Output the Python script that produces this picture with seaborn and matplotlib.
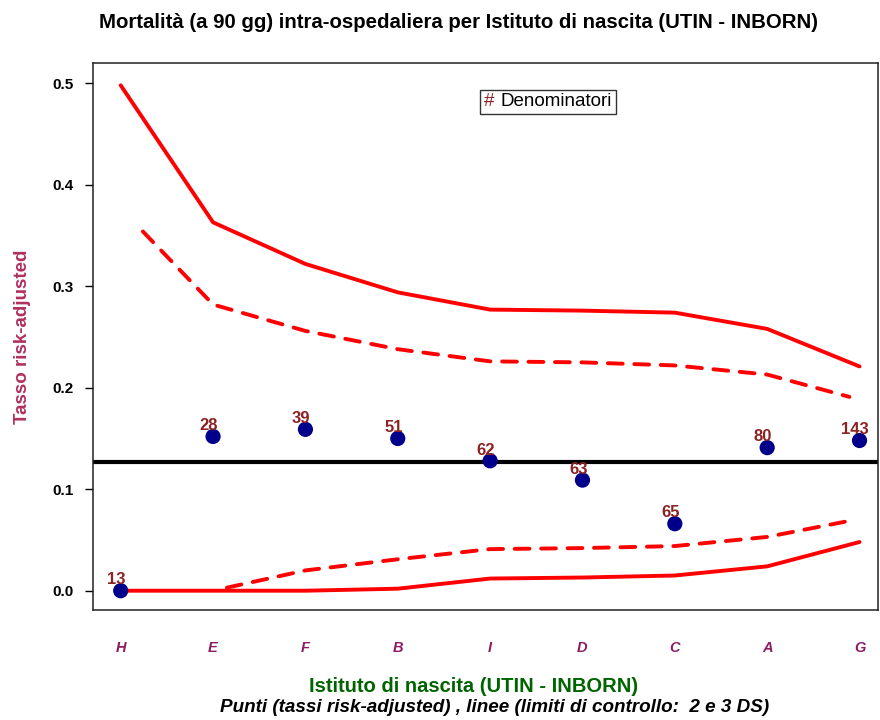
import matplotlib
matplotlib.use("Agg")
import matplotlib.pyplot as plt
import seaborn as sns
import pandas as pd
from matplotlib.offsetbox import TextArea, HPacker, AnchoredOffsetbox

# ---- data ----
categories = ["H", "E", "F", "B", "I", "D", "C", "A", "G"]
denominators = [13, 28, 39, 51, 62, 63, 65, 80, 143]
rates = [0.000, 0.152, 0.159, 0.150, 0.128, 0.109, 0.066, 0.141, 0.148]
center_rate = 0.127
upper_3ds = [0.498, 0.363, 0.322, 0.294, 0.277, 0.276, 0.274, 0.258, 0.221]
lower_3ds = [0.000, 0.000, 0.000, 0.002, 0.012, 0.013, 0.015, 0.024, 0.048]
# 2 DS limits (smoothed curves, positions in category units)
upper_2ds_pos = [0.24, 1, 2, 3, 4, 5, 6, 7, 7.89]
upper_2ds = [0.354, 0.282, 0.256, 0.238, 0.226, 0.225, 0.222, 0.213, 0.191]
lower_2ds_pos = [1.15, 2, 3, 4, 5, 6, 7, 7.9]
lower_2ds = [0.003, 0.020, 0.031, 0.041, 0.042, 0.044, 0.053, 0.069]

pos = list(range(len(categories)))

sns.set_style("white")
plt.rcParams["font.family"] = ["Liberation Sans", "DejaVu Sans"]
plt.rcParams["text.color"] = "black"
plt.rcParams["axes.labelcolor"] = "black"
plt.rcParams["xtick.color"] = "black"
plt.rcParams["ytick.color"] = "black"

fig = plt.figure(figsize=(8.8, 7.2), dpi=100)
ax = fig.add_axes([93 / 880, 1 - 610 / 720, (878 - 93) / 880, (610 - 63) / 720])

red = "#FF0000"
lw = 2.8

df3 = pd.DataFrame({"x": pos, "up": upper_3ds, "lo": lower_3ds, "rate": rates})
sns.lineplot(x="x", y="up", data=df3, ax=ax, color=red, lw=lw, solid_capstyle="round")
sns.lineplot(x="x", y="lo", data=df3, ax=ax, color=red, lw=lw, solid_capstyle="round")
sns.lineplot(x=upper_2ds_pos, y=upper_2ds, ax=ax, color=red, lw=lw,
             linestyle=(0, (3.8, 3.0)), dash_capstyle="round")
sns.lineplot(x=lower_2ds_pos, y=lower_2ds, ax=ax, color=red, lw=lw,
             linestyle=(0, (3.8, 3.0)), dash_capstyle="round")
ax.axhline(center_rate, color="black", lw=3.0)
sns.scatterplot(x="x", y="rate", data=df3, ax=ax, color="#00008B", s=120,
                edgecolor="none", zorder=5)

for x, y, n in zip(pos, rates, denominators):
    ax.annotate(str(n), (x, y), xytext=(-3, 4.5), textcoords="offset points",
                ha="center", va="baseline", fontsize=12, fontweight="bold",
                color="#8B2323", zorder=6)

ax.set_xlim(-0.30, 8.2)
ax.set_ylim(-0.019, 0.52)
ax.set_yticks([0.0, 0.1, 0.2, 0.3, 0.4, 0.5])
ax.set_yticklabels(["0.0", "0.1", "0.2", "0.3", "0.4", "0.5"],
                   fontsize=11, fontweight="bold")
ax.tick_params(axis="y", direction="out", length=6, width=1, left=True, pad=8)
ax.set_xticks(pos)
ax.set_xticklabels(categories, fontsize=10.5, fontstyle="italic",
                   fontweight="bold", color="#8B1C62")
ax.tick_params(axis="x", length=0, pad=22)
for s in ax.spines.values():
    s.set_color("#222222")
    s.set_linewidth(1.1)

ax.set_xlabel("")
ax.set_ylabel("Tasso risk-adjusted", fontsize=13.5, fontweight="bold",
              color="#B03060", labelpad=15)

fig.text(458 / 880, 1 - 22 / 720,
         "Mortalità (a 90 gg) intra-ospedaliera per Istituto di nascita (UTIN - INBORN)",
         ha="center", va="center", fontsize=14.7, fontweight="bold")
fig.text(474 / 880, 1 - 686 / 720, "Istituto di nascita (UTIN - INBORN)",
         ha="center", va="center", fontsize=14.5, fontweight="bold",
         color="#006400")
fig.text(495 / 880, 1 - 708 / 720,
         "Punti (tassi risk-adjusted) , linee (limiti di controllo:  2 e 3 DS)",
         ha="center", va="center", fontsize=13.6, fontweight="bold",
         fontstyle="italic")

# legend box
t1 = TextArea("#", textprops=dict(color="#8B2323", fontsize=13.5))
t2 = TextArea("Denominatori", textprops=dict(color="black", fontsize=13.5))
box = HPacker(children=[t1, t2], align="center", pad=0, sep=5)
anch = AnchoredOffsetbox(loc="center", child=box, pad=0.25, frameon=True,
                         bbox_to_anchor=(548 / 880, 1 - 102 / 720),
                         bbox_transform=fig.transFigure, borderpad=0)
anch.patch.set_edgecolor("#333333")
anch.patch.set_linewidth(1)
ax.add_artist(anch)

fig.savefig("out.png", dpi=100)
